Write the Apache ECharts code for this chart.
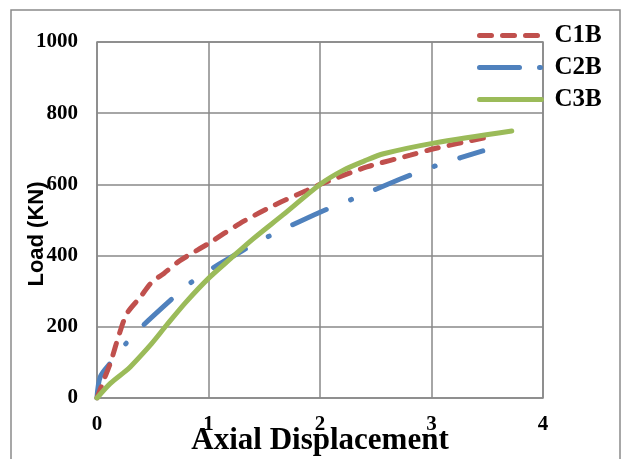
<!DOCTYPE html>
<html>
<head>
<meta charset="utf-8">
<script src="https://cdn.jsdelivr.net/npm/echarts@6/dist/echarts.min.js"></script>
<style>
  html, body { margin: 0; padding: 0; background: #fff; }
  #chart { width: 622px; height: 459px; }
</style>
</head>
<body>
<div id="chart"></div>
<script>
// data (displacement, load kN)
var c1bX = [0, 0.06, 0.12, 0.2, 0.27, 0.39, 0.49, 0.6, 0.74, 1.0, 1.28, 1.58, 1.88, 2.0, 2.42, 2.81, 3.02, 3.48];
var c1bY = [0, 50, 98, 180, 238, 284, 325, 350, 385, 434, 490, 540, 583, 600, 649, 682, 700, 731];

var c2bX = [0, 0.03, 0.13, 0.26, 0.40, 0.67, 0.825, 0.98, 1.31, 1.49, 1.67, 2.0, 2.19, 2.37, 2.72, 2.91, 3.11, 3.46];
var c2bY = [0, 60, 102, 153, 200, 278, 320, 354, 415, 446, 474, 522, 546, 569, 615, 638, 660, 694];

var c3bX = [0, 0.12, 0.25, 0.30, 0.49, 0.625, 0.80, 1.0, 1.2, 1.4, 1.67, 2.0, 2.21, 2.4, 2.57, 3.02, 3.72];
var c3bY = [0, 41, 74, 88, 153, 205, 270, 336, 392, 447, 515, 600, 640, 666, 686, 716, 750];

var xTicks = [0, 1, 2, 3, 4];
var yTicks = [0, 200, 400, 600, 800, 1000];

function pairs(xs, ys) {
    return xs.map(function (x, i) { return [x, ys[i]]; });
}

var dom = document.getElementById('chart');
var myChart = echarts.init(dom);

var serif = 'Liberation Serif';
var option = {
    animation: false,
    graphic: [{
        type: 'rect',
        shape: { x: 11, y: 10, width: 609, height: 470 },
        style: { fill: 'none', stroke: '#8a8a8a', lineWidth: 1.5 },
        silent: true
    }],
    grid: {
        left: 97,
        right: 79,
        top: 42,
        bottom: 61,
        show: true,
        borderColor: '#888',
        borderWidth: 1.5,
        outerBoundsMode: 'none'
    },
    legend: {
        orient: 'vertical',
        left: 477,
        top: 23,
        padding: 0,
        itemWidth: 62,
        itemHeight: 12,
        itemGap: 7,
        data: [
            'C1B',
            { name: 'C2B', lineStyle: { type: [40, 20, 1, 20] } },
            'C3B'
        ],
        itemStyle: { opacity: 0 },
        lineStyle: { width: 5, cap: 'round' },
        textStyle: {
            fontFamily: serif,
            fontWeight: 'bold',
            fontSize: 25,
            color: '#000',
            padding: [0, 0, 0, 8]
        }
    },
    xAxis: {
        type: 'value',
        min: 0,
        max: 4,
        interval: 1,
        name: 'Axial Displacement',
        nameLocation: 'middle',
        nameGap: 27,
        nameMoveOverlap: false,
        nameTextStyle: {
            fontFamily: serif,
            fontWeight: 'bold',
            fontSize: 31,
            color: '#000'
        },
        axisLine: { show: false },
        axisTick: { show: false },
        axisLabel: {
            margin: 16,
            fontFamily: serif,
            fontWeight: 'bold',
            fontSize: 21,
            color: '#000',
            formatter: function (v) { return xTicks.indexOf(v) >= 0 ? String(v) : ''; }
        },
        splitLine: { lineStyle: { color: '#888', width: 1.5 } }
    },
    yAxis: {
        type: 'value',
        min: 0,
        max: 1000,
        interval: 200,
        name: 'Load (KN)',
        nameLocation: 'middle',
        nameRotate: 90,
        nameGap: 49,
        nameMoveOverlap: false,
        nameTextStyle: {
            fontFamily: 'Liberation Sans',
            fontWeight: 'bold',
            fontSize: 22,
            color: '#000',
            padding: [0, 28, 0, 0]
        },
        axisLine: { show: false },
        axisTick: { show: false },
        axisLabel: {
            margin: 19,
            fontFamily: serif,
            fontWeight: 'bold',
            fontSize: 21,
            color: '#000',
            formatter: function (v) { return yTicks.indexOf(v) >= 0 ? String(v) : ''; }
        },
        splitLine: { lineStyle: { color: '#888', width: 1.5 } }
    },
    series: [
        {
            name: 'C1B',
            type: 'line',
            smooth: 0.3,
            symbol: 'none',
            color: '#C0504D',
            lineStyle: { width: 5, color: '#C0504D', type: [12, 11], cap: 'round' },
            data: pairs(c1bX, c1bY),
            z: 3
        },
        {
            name: 'C2B',
            type: 'line',
            smooth: 0.3,
            symbol: 'none',
            color: '#4F81BD',
            lineStyle: { width: 5, color: '#4F81BD', type: [37, 26, 1, 26], cap: 'round' },
            data: pairs(c2bX, c2bY),
            z: 2
        },
        {
            name: 'C3B',
            type: 'line',
            smooth: 0.3,
            symbol: 'none',
            color: '#9BBB59',
            lineStyle: { width: 5, color: '#9BBB59', cap: 'round' },
            data: pairs(c3bX, c3bY),
            z: 4
        }
    ]
};

myChart.setOption(option);
</script>
</body>
</html>
